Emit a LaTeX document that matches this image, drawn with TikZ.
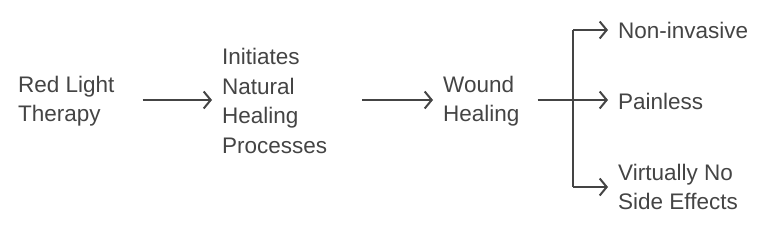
\documentclass[tikz,border=0pt]{standalone}
\usepackage{fontspec}
\setmainfont{Liberation Sans}
\usetikzlibrary{positioning, arrows.meta}
\definecolor{ink}{HTML}{444444}
\tikzset{
  lbl/.style={anchor=west, align=left, inner sep=0pt, text=ink,
    font=\fontsize{22.5}{29.5}\selectfont},
  arr/.style={draw=ink, line width=2pt, -{Straight Barb[length=7pt, width=17pt, line width=2pt]}},
  ln/.style={draw=ink, line width=2pt}}
\begin{document}
\begin{tikzpicture}[x=1pt, y=-1pt]
\useasboundingbox (0,0) rectangle (780,230);
\node[lbl] (rlt) at (18,101) {Red Light\\Therapy};
\node[lbl] (inp) at (222,101) {Initiates\\Natural\\Healing\\Processes};
\node[lbl] (wh) at (443,101) {Wound\\Healing};
\coordinate (fk) at (573,100);
\node[lbl] (ni) at (618,30) {Non-invasive};
\node[lbl] (pl) at (618,101) {Painless};
\node[lbl] (ve) at (618,187) {Virtually No\\Side Effects};
% main chain
\draw[arr, shorten <=28pt, shorten >=10pt] (rlt.east |- fk) -- (inp.west |- fk);
\draw[arr, shorten <=35pt, shorten >=10pt] (inp.east |- fk) -- (wh.west |- fk);
% fork
\draw[ln, shorten <=18pt] (wh.east |- fk) -- (fk);
\draw[ln] (fk |- ni.west) -- (fk |- ve.west);
\draw[arr, shorten >=10pt] (fk |- ni.west) -- (ni.west);
\draw[arr, shorten >=10pt] (fk) -- (fk -| pl.west);
\draw[arr, shorten >=10pt] (fk |- ve.west) -- (ve.west);
\end{tikzpicture}
\end{document}
